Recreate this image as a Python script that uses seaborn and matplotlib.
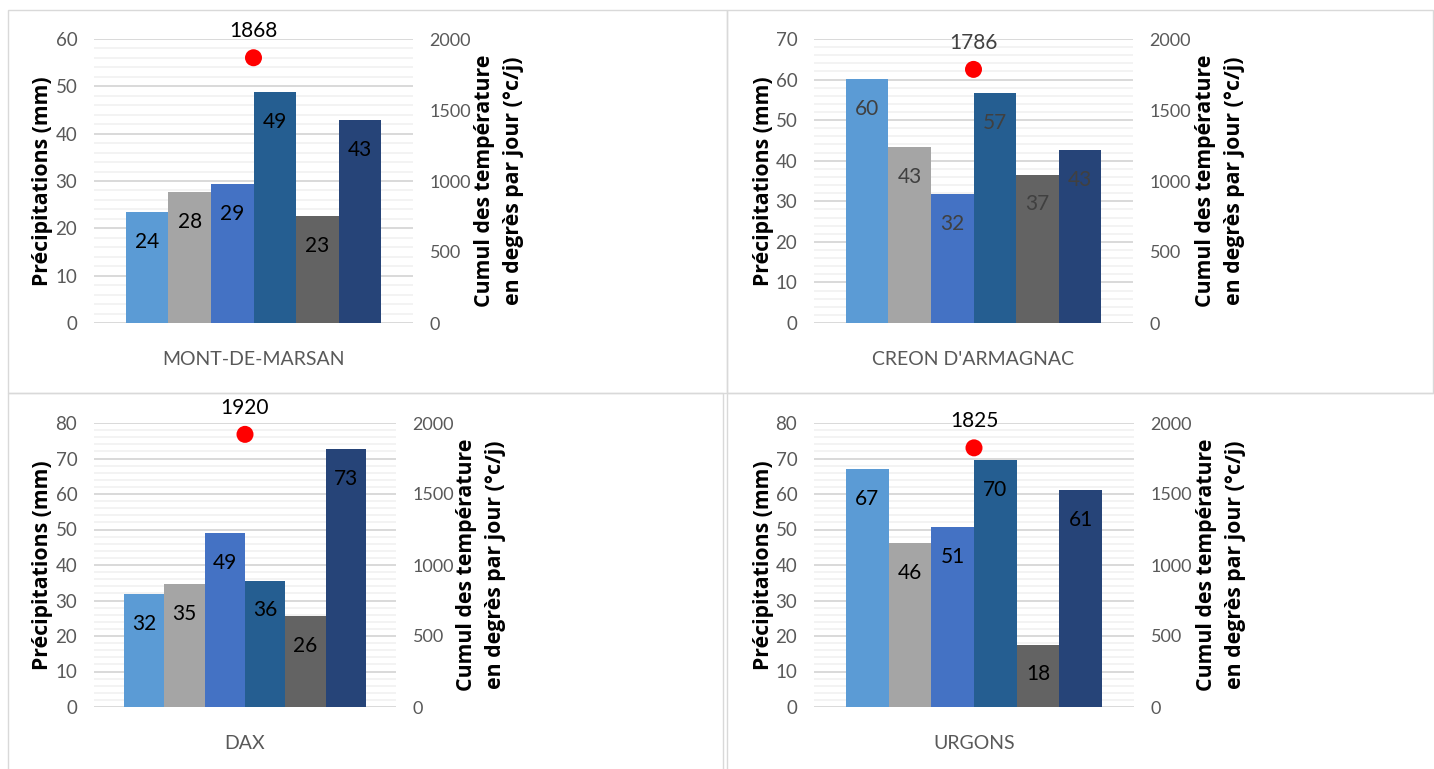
import numpy as np
import pandas as pd
import seaborn as sns
import matplotlib
matplotlib.use("Agg")
import matplotlib.pyplot as plt
from matplotlib.patches import Rectangle
from matplotlib.ticker import MultipleLocator

# ---- data -------------------------------------------------------------
stations = ["MONT-DE-MARSAN", "CREON D'ARMAGNAC", "DAX", "URGONS"]
series = ["1", "2", "3", "4", "5", "6"]
precip_mont_de_marsan = [23.5, 27.7, 29.4, 48.8, 22.6, 42.9]
precip_creon = [60.1, 43.4, 31.8, 56.7, 36.6, 42.6]
precip_dax = [31.8, 34.6, 49.0, 35.6, 25.6, 72.6]
precip_urgons = [67.0, 46.2, 50.6, 69.6, 17.6, 61.1]
temp_cumul = [1868, 1786, 1920, 1825]
precip_max = [60, 70, 80, 80]

palette = ["#5B9BD5", "#A5A5A5", "#4472C4", "#255E91", "#636363", "#264478"]
label_colors = ["black", "#404040", "black", "black"]

precip_all = [precip_mont_de_marsan, precip_creon, precip_dax, precip_urgons]

# ---- layout (pixels) ---------------------------------------------------
W, H = 1434, 769
sns.set_theme(style="white")
text_font = ["Lato", "DejaVu Sans"]
bold_font = ["Open Sans", "DejaVu Sans"]

fig = plt.figure(figsize=(W / 100, H / 100), dpi=100)
fig.patch.set_facecolor("white")

# plot areas: left, top, right, bottom
areas = [(94, 39, 413, 323), (814, 39, 1133, 323),
         (94, 423, 396, 707), (814, 423, 1134, 707)]
# panel frames: left, top, right, bottom
frames = [(8, 10, 727, 393), (727, 10, 1433, 393),
          (8, 393, 723, 780), (727, 393, 1440, 780)]
left_label_x = [43, 763, 43, 763]
right_label_x = [499, 1220, 481, 1221]

for (fl, ft, fr, fb) in frames:
    fig.add_artist(Rectangle((fl / W, 1 - fb / H), (fr - fl) / W, (fb - ft) / H,
                             transform=fig.transFigure, fill=False,
                             edgecolor="#D9D9D9", lw=1.0, zorder=0))

for i, station in enumerate(stations):
    l, t, r, b = areas[i]
    ax = fig.add_axes([l / W, 1 - b / H, (r - l) / W, (b - t) / H])
    df = pd.DataFrame({"station": [station] * len(series),
                       "serie": series,
                       "precip": precip_all[i]})
    sns.barplot(data=df, x="station", y="precip", hue="serie",
                palette=palette, saturation=1, width=0.8, dodge=True,
                legend=False, ax=ax, errorbar=None, linewidth=0)

    ax.set_ylim(0, precip_max[i])
    ax.yaxis.set_major_locator(MultipleLocator(10))
    ax.yaxis.set_minor_locator(MultipleLocator(2))
    ax.grid(which="major", axis="y", color="#D9D9D9", lw=1.4)
    ax.grid(which="minor", axis="y", color="#F0F0F0", lw=1.1)
    ax.grid(which="major", axis="x", visible=False)
    ax.set_axisbelow(True)
    for s in ax.spines.values():
        s.set_visible(False)
    ax.set_xlabel("")
    ax.set_ylabel("")
    ax.tick_params(axis="both", which="both", length=0)
    ax.tick_params(axis="y", pad=12, labelsize=13.5, labelcolor="#595959")
    ax.tick_params(axis="x", pad=20, labelsize=14, labelcolor="#595959")
    for lab in ax.get_yticklabels() + ax.get_xticklabels():
        lab.set_family(text_font)

    for cont in ax.containers:
        anns = ax.bar_label(cont, fmt="%.0f", padding=-21.5,
                            fontsize=15, color=label_colors[i])
        for a in anns:
            a.set_va("center")
            a.set_family(text_font)

    ax2 = ax.twinx()
    ax2.set_ylim(0, 2000)
    ax2.yaxis.set_major_locator(MultipleLocator(500))
    ax2.grid(False)
    for s in ax2.spines.values():
        s.set_visible(False)
    ax2.tick_params(axis="y", length=0, pad=12, labelsize=13,
                    labelcolor="#595959")
    for lab in ax2.get_yticklabels():
        lab.set_family(text_font)
    ax2.scatter([0], [temp_cumul[i]], s=150, color="#FF0000",
                edgecolor="none", zorder=5)
    ax2.annotate(f"{temp_cumul[i]}", (0, temp_cumul[i]), xytext=(0, 19),
                 textcoords="offset points", ha="center", va="center",
                 fontsize=15, color=label_colors[i], family=text_font)
    ax.set_xlim(-0.5, 0.5)

    yc = 1 - (t + b) / 2 / H
    fig.text(left_label_x[i] / W, yc, "Précipitations (mm)", rotation=90,
             ha="center", va="center", fontsize=15.3, fontweight="bold",
             family=bold_font, color="black")
    fig.text(right_label_x[i] / W, yc,
             "Cumul des température\nen degrès par jour (°c/j)",
             rotation=90, ha="center", va="center", fontsize=15.3,
             fontweight="bold", family=bold_font, color="black",
             multialignment="center", linespacing=1.55)

fig.savefig("out.png", dpi=100, facecolor="white")
